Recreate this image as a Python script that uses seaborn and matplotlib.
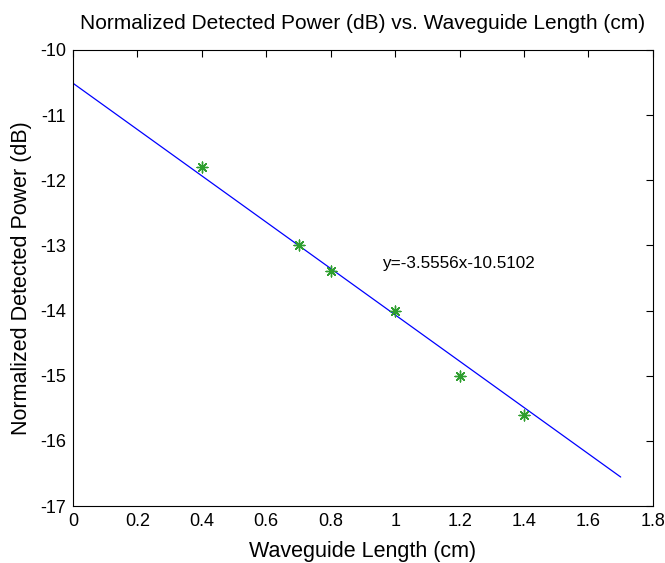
import matplotlib
matplotlib.use('Agg')
import seaborn as sns
import matplotlib.pyplot as plt
import pandas as pd

length_cm = [0.4, 0.7, 0.8, 1.0, 1.2, 1.4]
power_db = [-11.8, -13.0, -13.4, -14.0, -15.0, -15.6]

# fitted line end points
fit_x = [0.0, 1.7]
fit_y = [-10.5102, -16.5547]
fit_label = 'y=-3.5556x-10.5102'

xticks = [0, 0.2, 0.4, 0.6, 0.8, 1, 1.2, 1.4, 1.6, 1.8]
yticks = [-17, -16, -15, -14, -13, -12, -11, -10]

sns.set_style('white')
plt.rcParams['font.family'] = ['Liberation Sans', 'DejaVu Sans']
plt.rcParams['axes.unicode_minus'] = False
plt.rcParams['text.color'] = 'black'
plt.rcParams['axes.labelcolor'] = 'black'
plt.rcParams['xtick.color'] = 'black'
plt.rcParams['ytick.color'] = 'black'

fig = plt.figure(figsize=(6.65, 5.63), dpi=100)
ax = fig.add_axes([0.1098, 0.1012, 0.872, 0.810])

pts = pd.DataFrame({'x': length_cm, 'y': power_db})
fit = pd.DataFrame({'x': fit_x, 'y': fit_y})

sns.lineplot(data=fit, x='x', y='y', color='#0000ff', linewidth=0.9, ax=ax)
sns.scatterplot(data=pts, x='x', y='y', marker=(8, 2, 0), s=60,
                color='#2e9e2e', linewidth=1.0, edgecolor='#2e9e2e', ax=ax, zorder=3)

ax.text(0.959, -13.27, fit_label, fontsize=12.3, va='center', ha='left', color='black')

ax.set_xlim(0, 1.8)
ax.set_ylim(-17, -10)
ax.set_xticks(xticks)
ax.set_xticklabels([f'{t:g}' for t in xticks])
ax.set_yticks(yticks)
ax.set_yticklabels([f'{t:g}' for t in yticks])
ax.tick_params(direction='in', top=True, right=True, length=5, width=0.8,
               labelsize=13, color='black', labelcolor='black', pad=5)
for s in ax.spines.values():
    s.set_color('black')
    s.set_linewidth(0.8)

ax.set_title('Normalized Detected Power (dB) vs. Waveguide Length (cm)', fontsize=15, pad=15, color='black')
ax.set_xlabel('Waveguide Length (cm)', fontsize=15.5, labelpad=8, color='black')
ax.set_ylabel('Normalized Detected Power (dB)', fontsize=15.5, labelpad=6, color='black')

fig.savefig('out.png', dpi=100)
